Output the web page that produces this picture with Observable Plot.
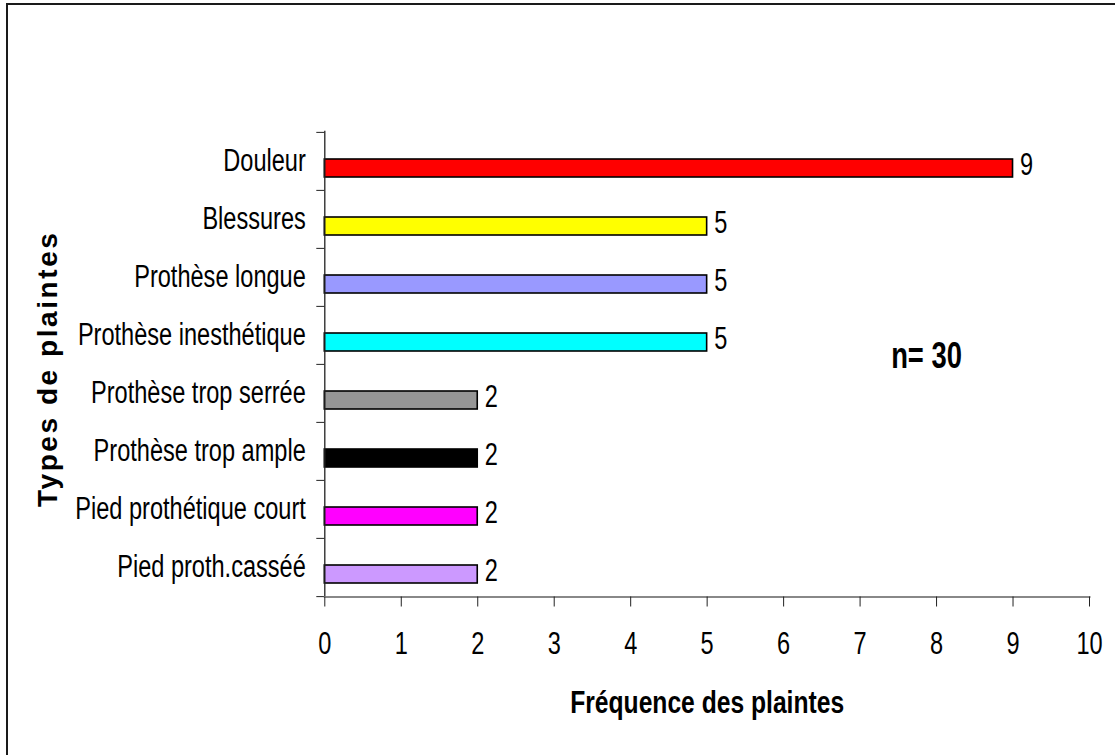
<!DOCTYPE html>
<html><head><meta charset="utf-8">
<script src="https://cdn.jsdelivr.net/npm/d3@7"></script>
<script src="https://cdn.jsdelivr.net/npm/@observablehq/plot@0.6"></script>
<style>
body{margin:0;background:#fff;}
#wrap{position:relative;width:1115px;height:755px;overflow:hidden;}
#border{position:absolute;left:6px;top:3px;width:1200px;height:800px;border-left:2px solid #1a1a1a;border-top:2px solid #1a1a1a;box-sizing:border-box;pointer-events:none;}
#wrap svg{position:absolute;left:0;top:0;}
</style></head><body><div id="wrap"><div id="border"></div></div>
<script>
const categories = ["Douleur","Blessures","Prothèse longue","Prothèse inesthétique","Prothèse trop serrée","Prothèse trop ample","Pied prothétique court","Pied proth.casséé"];
const values = [9,5,5,5,2,2,2,2];
const colors = ["#FF0000","#FFFF00","#9999FF","#00FFFF","#969696","#000000","#FF00FF","#CC99FF"];
const xTicks = [0,1,2,3,4,5,6,7,8,9,10];
const sampleSize = 30;
const xTitle = "Fréquence des plaintes";
const yTitle = "Types de plaintes";

const data = categories.map((c,i)=>({category:c, value:values[i], color:colors[i]}));
const font = `"Liberation Sans",Arial,sans-serif`;
const mTop = 130.7, mBottom = 158.5, H = 755;
const band = (H - mTop - mBottom)/categories.length;

const chart = Plot.plot({
  width:1115, height:H, marginLeft:324.3, marginRight:26, marginTop:mTop, marginBottom:mBottom,
  style:{fontFamily:font, background:"transparent", color:"#000", overflow:"visible"},
  x:{domain:[0,10]},
  y:{domain:categories, padding:0},
  marks:[
    Plot.barX(data,{x:"value",y:"category",fill:"color",stroke:"#000",strokeWidth:1.6,insetTop:27,insetBottom:13}),
    Plot.text(data,{x:"value",y:"category",text:d=>String(d.value),textAnchor:"start",dx:7,dy:4,fontSize:31,fill:"#000"}),
    Plot.ruleX([0],{stroke:"#222",strokeWidth:1.3}),
    Plot.axisY({tickSize:0,tickPadding:19,fontSize:31,label:null}),
    Plot.axisY({text:null,tickSize:8,dy:-band/2,label:null,stroke:"#222"}),
    Plot.axisY({ticks:[categories[categories.length-1]],text:null,tickSize:8,dy:band/2,label:null,stroke:"#222"}),
    Plot.frame({anchor:"bottom",stroke:"#888",strokeWidth:2}),
    Plot.axisX({ticks:xTicks,tickSize:10,tickPadding:25,fontSize:31,label:null,stroke:"#222"}),
    Plot.text([xTitle],{frameAnchor:"bottom",dy:106,textAnchor:"middle",lineAnchor:"middle",fontWeight:"bold",fontSize:31,fill:"#000"}),
    Plot.text([yTitle],{frameAnchor:"left",dx:-277,dy:6,rotate:-90,textAnchor:"middle",lineAnchor:"middle",fontWeight:"bold",fontSize:28,fill:"#000"}),
    Plot.text([`n= ${sampleSize}`],{frameAnchor:"top-left",dx:926-324.3,dy:356-mTop,textAnchor:"middle",lineAnchor:"middle",fontWeight:"bold",fontSize:36,fill:"#000"})
  ]
});
document.getElementById("wrap").prepend(chart);
// condense glyphs horizontally (the reference uses a narrow face)
const S = 0.76;
d3.select(chart).selectAll("text").each(function(){
  const t = this.textContent;
  if (!t) return;
  const len = this.getComputedTextLength();
  if (t === yTitle) {
    this.setAttribute("textLength", 274);
    this.setAttribute("lengthAdjust", "spacing");
  } else if (t === xTitle) {
    this.setAttribute("textLength", 274);
    this.setAttribute("lengthAdjust", "spacingAndGlyphs");
  } else {
    this.setAttribute("textLength", (len*S).toFixed(1));
    this.setAttribute("lengthAdjust", "spacingAndGlyphs");
  }
});
</script>
</body></html>
